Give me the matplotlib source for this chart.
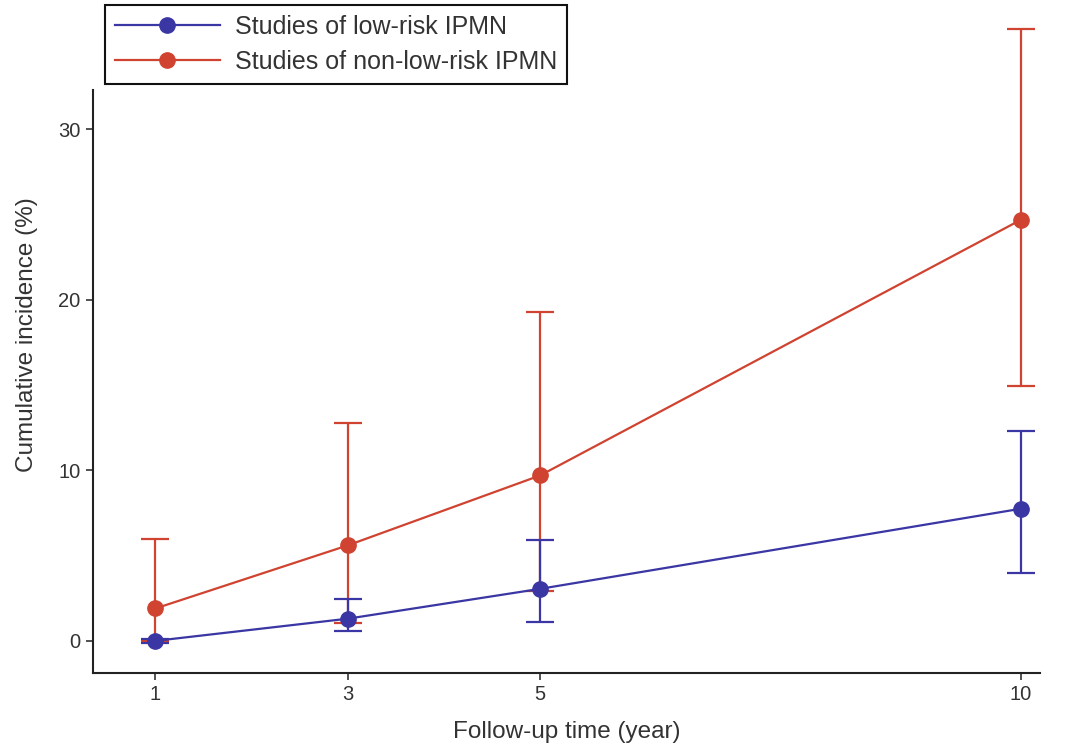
import numpy as np
import matplotlib.pyplot as plt
from matplotlib.lines import Line2D

plt.rcParams['font.family'] = ['Liberation Sans', 'DejaVu Sans']

# 随访时间（年）
years = [1, 3, 5, 10]

# 低风险 IPMN
low_mean = [0.0, 1.3, 3.05, 7.75]
low_lo = [-0.12, 0.55, 1.1, 4.0]
low_hi = [0.12, 2.45, 5.9, 12.3]

# 非低风险 IPMN
high_mean = [1.9, 5.6, 9.7, 24.7]
high_lo = [0.0, 1.05, 2.95, 14.95]
high_hi = [5.95, 12.8, 19.3, 35.9]

BLUE = '#3a36a3'
RED = '#cf4330'
TEXT = '#333333'


def draw_series(ax, mean, lo, hi, color):
    mean = np.array(mean)
    yerr = [mean - np.array(lo), np.array(hi) - mean]
    ax.errorbar(years, mean, yerr=yerr, color=color, ecolor=color, lw=1.6,
                elinewidth=1.6, capsize=10, capthick=1.6, marker='o',
                markersize=11, clip_on=False)


def main():
    fig = plt.figure(figsize=(10.68, 7.45), dpi=100)
    ax = fig.add_axes([0.087, 0.097, 0.887, 0.782])

    draw_series(ax, high_mean, high_lo, high_hi, RED)
    draw_series(ax, low_mean, low_lo, low_hi, BLUE)

    ax.set_xlim(0.35, 10.2)
    ax.set_ylim(-1.87, 32.3)
    ax.set_xticks(years)
    ax.set_yticks([0, 10, 20, 30])
    ax.tick_params(labelsize=14.5, colors=TEXT, length=5, width=1.2, pad=4)
    for s in ['top', 'right']:
        ax.spines[s].set_visible(False)
    for s in ['left', 'bottom']:
        ax.spines[s].set_linewidth(1.5)
        ax.spines[s].set_color('#222222')

    ax.set_xlabel('Follow-up time (year)', fontsize=17.5, color=TEXT, labelpad=12)
    ax.set_ylabel('Cumulative incidence (%)', fontsize=17.5, color=TEXT)
    ax.yaxis.set_label_coords(-0.058, 0.58)

    # 图例放在坐标轴上方
    handles = [
        Line2D([], [], color=BLUE, lw=1.6, marker='o', markersize=11),
        Line2D([], [], color=RED, lw=1.6, marker='o', markersize=11),
    ]
    labels = ['Studies of low-risk IPMN', 'Studies of non-low-risk IPMN']
    leg = fig.legend(handles, labels, loc='upper left',
                     bbox_to_anchor=(0.098, 0.993), borderaxespad=0,
                     fontsize=18, handlelength=4.2, handletextpad=0.6,
                     fancybox=False, framealpha=1, edgecolor='#111111',
                     borderpad=0.4, labelspacing=0.42)
    leg.get_frame().set_linewidth(1.5)
    for t in leg.get_texts():
        t.set_color(TEXT)

    fig.savefig('out.png', dpi=100)


if __name__ == '__main__':
    main()
